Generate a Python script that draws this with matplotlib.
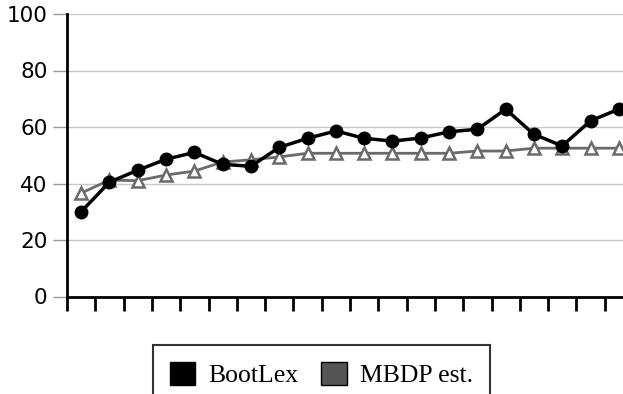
import numpy as np
import matplotlib.pyplot as plt
from matplotlib.patches import Patch

bootlex = [30, 40.5, 44.7, 48.6, 51, 46.8, 46.1, 52.8, 56, 58.6,
           56, 55, 56.1, 58.3, 59.2, 66.3, 57.4, 53.3, 62.2, 66.3]
mbdp = [36.6, 41.2, 41.0, 43.0, 44.4, 47.6, 48.4, 49.4, 50.7, 50.7,
        50.7, 50.7, 50.7, 50.7, 51.5, 51.5, 52.5, 52.5, 52.5, 52.5]
yticks = [0, 20, 40, 60, 80, 100]
labels = ['BootLex', 'MBDP est.']

W, H = 623, 394
fig = plt.figure(figsize=(W / 100, H / 100), dpi=100)
# axes run a bit past the right edge, the original is cropped there
ax = fig.add_axes([67 / W, 1 - 296.5 / H, 566 / W, (296.5 - 14) / H])

x = np.arange(len(bootlex))
ax.plot(x, mbdp, color='#6a6a6a', lw=2, marker='^', ms=8,
        mfc='white', mec='#6a6a6a', mew=1.8, zorder=3)
ax.plot(x, bootlex, color='black', lw=2.5, marker='o', ms=9,
        mfc='black', mec='black', zorder=4)

ax.set_xlim(-0.5, len(bootlex) - 0.5)
ax.set_ylim(0, 100)
ax.set_yticks(yticks)
ax.set_yticklabels([str(v) for v in yticks], fontsize=15.5, family='DejaVu Sans')
ax.set_xticks(np.arange(len(bootlex) + 1) - 0.5)
ax.set_xticklabels([])
ax.tick_params(axis='y', length=10, width=1, color='#999999', pad=4)
ax.tick_params(axis='x', length=10, width=2, color='black', direction='out')
ax.grid(axis='y', color='#c8c8c8', lw=1)
ax.set_axisbelow(True)
for s in ['top', 'right']:
    ax.spines[s].set_visible(False)
ax.spines['left'].set_linewidth(2)
ax.spines['bottom'].set_linewidth(2)
ax.spines['bottom'].set_zorder(5)

handles = [Patch(facecolor='black', edgecolor='black'),
           Patch(facecolor='#555555', edgecolor='black')]
leg = fig.legend(handles, labels, loc='upper left',
                 bbox_to_anchor=(153 / W, 1 - 345 / H), ncol=2,
                 prop={'family': 'Liberation Serif', 'size': 18.5},
                 frameon=True, fancybox=False, edgecolor='black',
                 handlelength=1.0, handleheight=1.0, handletextpad=0.5,
                 columnspacing=0.9, borderpad=0.65, borderaxespad=0)
leg.get_frame().set_linewidth(1.5)

fig.savefig('out.png', dpi=100)
